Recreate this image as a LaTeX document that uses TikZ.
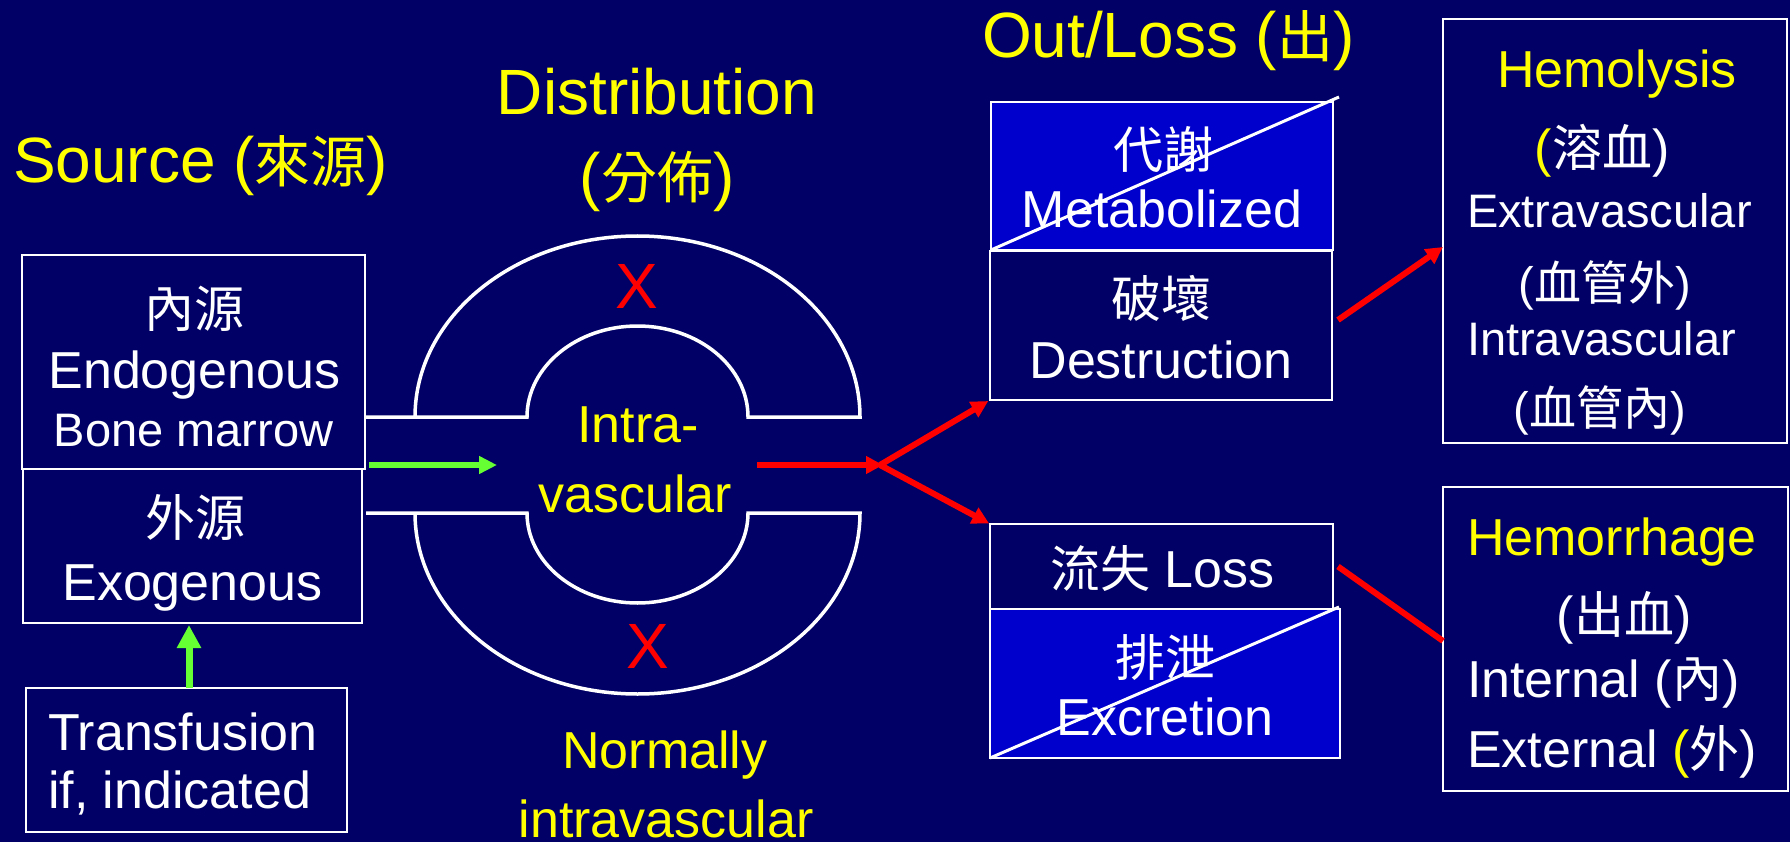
\documentclass[tikz,border=0pt]{standalone}
\usepackage{fontspec}
\setmainfont{Liberation Sans}
\newfontfamily\cjk{Noto Sans CJK TC}
\usetikzlibrary{arrows.meta,calc}
\definecolor{bgblue}{RGB}{0,0,102}
\definecolor{fillblue}{RGB}{0,0,204}
\definecolor{ygreen}{RGB}{102,255,51}
\definecolor{yel}{RGB}{255,255,0}
\definecolor{rred}{RGB}{255,0,0}
\newcommand\fT{\fontsize{64}{70}\selectfont}
\newcommand\fTc{\fontsize{56}{60}\selectfont\cjk}
\newcommand\fB{\fontsize{52}{60}\selectfont}
\newcommand\fBc{\fontsize{50}{60}\selectfont\cjk}
\newcommand\fS{\fontsize{47}{55}\selectfont}
\newcommand\fSc{\fontsize{47}{55}\selectfont\cjk}
\begin{document}
\begin{tikzpicture}[x=1pt,y=-1pt,
  box/.style={draw=white, line width=1.8pt, inner sep=0pt, outer sep=0pt},
  lbl/.style={inner sep=0pt, outer sep=0pt, anchor=base, text=white},
  lblw/.style={lbl, anchor=base west},
  tube/.style={draw=white, line width=3.5pt, line join=miter},
  slash/.style={draw=white, line width=3pt},
  garr/.style={draw=ygreen, line width=6pt, -{Triangle[length=18pt,width=17pt]}},
  garrv/.style={draw=ygreen, line width=7pt, -{Triangle[length=23pt,width=23pt]}},
  rarr/.style={draw=rred, line width=6pt, -{Triangle[length=17pt,width=17pt]}},
  rline/.style={draw=rred, line width=6pt}]
\useasboundingbox (0,0) rectangle (1790,842);
\fill[bgblue] (0,0) rectangle (1790,842);

% titles
\node[lblw,text=yel] (tsrc) at (13,183) {\fT Source ({\fTc 來源})};
\node[lbl,text=yel] (tdist) at (657,115) {\fT Distribution};
\node[lbl,text=yel] (tdist2) at (657,199) {\fT ({\fTc 分佈})};
\node[lblw,text=yel] (tout) at (982,58) {\fT Out/Loss ({\fTc 出})};

% source boxes
\node[box,minimum width=343,minimum height=214] (endo) at (193.5,362) {};
\node[lbl] (endo1) at (194,327) {\fBc 內源};
\node[lbl] (endo2) at (194.5,388) {\fB Endogenous};
\node[lbl] (endo3) at (193.5,446) {\fS Bone marrow};
\node[box,minimum width=339,minimum height=154] (exo) at (192.5,546) {};
\node[lbl] (exo1) at (195,536) {\fBc 外源};
\node[lbl] (exo2) at (192.5,600) {\fB Exogenous};
\node[box,minimum width=321,minimum height=144] (trans) at (186.5,760) {};
\node[lblw] (trans1) at (48,750) {\fB Transfusion};
\node[lblw] (trans2) at (48,808) {\fB if, indicated};

% tube
\draw[tube] (365,417) -- (527,417)
  arc[start angle=180, end angle=360, x radius=110.5, y radius=91]
  -- (860,417)
  arc[start angle=0, end angle=-180, x radius=222.5, y radius=181];
\draw[tube] (366,513) -- (527,513)
  arc[start angle=180, end angle=0, x radius=110.5, y radius=90]
  -- (860,513)
  arc[start angle=0, end angle=180, x radius=222.5, y radius=181];
\node[lbl,text=rred] (x1) at (637,308) {\fT X};
\node[lbl,text=rred] (x2) at (648,668) {\fT X};
\node[lbl,text=yel] (intra1) at (638,442) {\fB Intra-};
\node[lbl,text=yel] (intra2) at (635,512) {\fB vascular};
\node[lbl,text=yel] (norm1) at (665,768) {\fB Normally};
\node[lbl,text=yel] (norm2) at (666,837) {\fB intravascular};

% out boxes
\node[box,fill=fillblue,minimum width=342,minimum height=148] (metab) at (1162,176) {};
\node[lbl] (metab1) at (1163,169) {\fBc 代謝};
\node[lbl] (metab2) at (1162,228) {\fB Metabolized};
\draw[slash] (metab.south west) -- (1339,97);
\node[box,minimum width=342,minimum height=149] (destr) at (1161,325.5) {};
\node[lbl] (destr1) at (1161,317) {\fBc 破壞};
\node[lbl] (destr2) at (1161,378) {\fB Destruction};
\node[box,minimum width=343,minimum height=85] (loss) at (1161.5,566.5) {};
\node[lblw] (loss1) at (1050,587) {{\fBc 流失}\fB\ Loss};
\node[box,fill=fillblue,minimum width=350,minimum height=149] (excr) at (1165,683.5) {};
\node[lbl] (excr1) at (1165,676) {\fBc 排泄};
\node[lbl] (excr2) at (1165,735) {\fB Excretion};
\draw[slash] (excr.south west) -- (1339,607);

% hemolysis box
\node[box,minimum width=344,minimum height=424] (hemol) at (1615,231) {};
\node[lbl,text=yel] (hl1) at (1617,88) {\fB Hemolysis};
\node[lbl] (hl2) at (1602,167) {\fB{\color{yel}(}{\fBc 溶血})};
\node[lblw] (hl3) at (1467,228) {\fS Extravascular};
\node[lbl] (hl4) at (1605,300) {\fS({\fSc 血管外})};
\node[lblw] (hl5) at (1467,355) {\fS Intravascular};
\node[lbl] (hl6) at (1600,425) {\fS({\fSc 血管內})};

% hemorrhage box
\node[box,minimum width=345,minimum height=304] (hemor) at (1615.5,639) {};
\node[lblw,text=yel] (hr1) at (1467,555) {\fB Hemorrhage};
\node[lbl] (hr2) at (1624,633) {\fB({\fBc 出血})};
\node[lblw] (hr3) at (1467,697) {\fB Internal ({\fBc 內})};
\node[lblw] (hr4) at (1467,767) {\fB External {\color{yel}(}{\fBc 外})};

% connectors
\coordinate (gs) at (369,465);
\coordinate (ge) at (497,465);
\draw[garr] (gs) -- (ge);
\draw[garrv] ([xshift=2.5pt]trans.north) -- ([xshift=2.5pt,yshift=-2pt]trans.north |- exo.south);
\coordinate (rs) at (757,465);
\coordinate (rj) at (883,465);
\coordinate (rb) at (880,465);
\draw[rarr] (rs) -- (rj);
\draw[rarr, shorten >=2pt] (rb) -- (destr.south west);
\draw[rarr, shorten >=1pt] (rb) -- (loss.north west);
\draw[rarr] ([xshift=6pt,yshift=5.5pt]destr.east) -- ([yshift=-16pt]hemol.west);
\draw[rline] ([xshift=5pt]loss.east) -- ([yshift=-2pt]hemor.west);
\end{tikzpicture}
\end{document}
